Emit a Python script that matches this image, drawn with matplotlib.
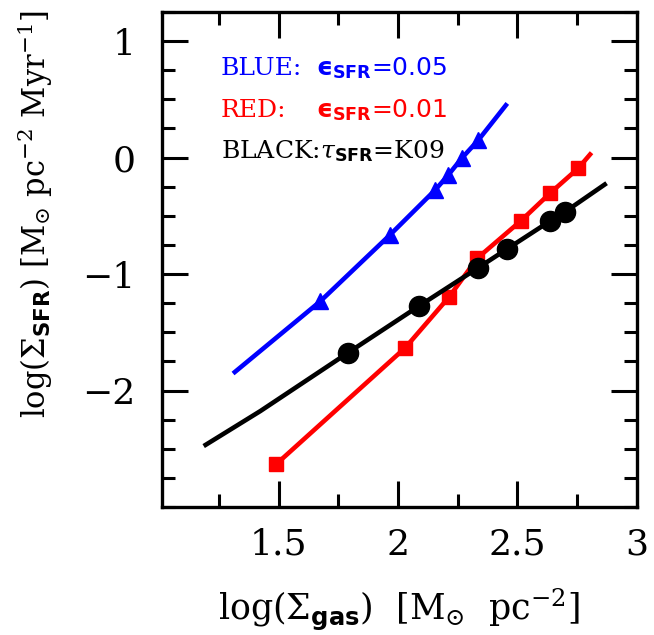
import matplotlib
matplotlib.use("Agg")
import matplotlib.pyplot as plt
from matplotlib.ticker import MultipleLocator, FixedLocator

plt.rcParams['mathtext.fontset'] = 'custom'
plt.rcParams['mathtext.rm'] = 'DejaVu Serif'
plt.rcParams['mathtext.it'] = 'DejaVu Serif:italic'
plt.rcParams['mathtext.bf'] = 'DejaVu Sans:bold'
plt.rcParams['mathtext.sf'] = 'DejaVu Sans'
plt.rcParams['font.family'] = 'DejaVu Serif'

# BLUE: eps_SFR = 0.05
blue_line_x = [1.309, 1.674, 1.967, 2.156, 2.211, 2.267, 2.337, 2.458]
blue_line_y = [-1.854, -1.235, -0.663, -0.278, -0.149, -0.006, 0.151, 0.465]
blue_pts_x = [1.674, 1.967, 2.156, 2.211, 2.267, 2.337]
blue_pts_y = [-1.235, -0.663, -0.278, -0.149, -0.006, 0.151]

# RED: eps_SFR = 0.01
red_line_x = [1.489, 2.030, 2.214, 2.333, 2.516, 2.637, 2.755, 2.811]
red_line_y = [-2.634, -1.634, -1.197, -0.863, -0.541, -0.306, -0.092, 0.042]
red_pts_x = [1.489, 2.030, 2.214, 2.333, 2.516, 2.637, 2.755]
red_pts_y = [-2.634, -1.634, -1.197, -0.863, -0.541, -0.306, -0.092]

# BLACK: tau_SFR = K09
black_line_x = [1.186, 1.423, 1.790, 2.090, 2.334, 2.456, 2.635, 2.700, 2.874]
black_line_y = [-2.477, -2.177, -1.677, -1.272, -0.949, -0.786, -0.548, -0.466, -0.220]
black_pts_x = [1.790, 2.090, 2.334, 2.456, 2.635, 2.700]
black_pts_y = [-1.677, -1.272, -0.949, -0.786, -0.548, -0.466]

xticks = [1.5, 2.0, 2.5, 3.0]
xticklabels = ['1.5', '2', '2.5', '3']
yticks = [-2, -1, 0, 1]
yticklabels = ['\u22122', '\u22121', '0', '1']

fig = plt.figure(figsize=(6.54, 6.35), dpi=100)
ax = fig.add_axes([0.2472, 0.2016, 0.7263, 0.7795])

lw = 3.3
ax.plot(blue_line_x, blue_line_y, color='#0000ff', lw=lw, solid_capstyle='butt', zorder=2)
ax.plot(blue_pts_x, blue_pts_y, ls='none', marker='^', ms=12, color='#0000ff', zorder=3)
ax.plot(red_line_x, red_line_y, color='#ff0000', lw=lw, solid_capstyle='butt', zorder=2)
ax.plot(red_pts_x, red_pts_y, ls='none', marker='s', ms=10.5, color='#ff0000', zorder=3)
ax.plot(black_line_x, black_line_y, color='black', lw=lw, solid_capstyle='butt', zorder=4)
ax.plot(black_pts_x, black_pts_y, ls='none', marker='o', ms=14.5, color='black', zorder=5)

ax.set_xlim(1.01, 3.0)
ax.set_ylim(-3.0, 1.25)
ax.xaxis.set_major_locator(FixedLocator(xticks))
ax.set_xticklabels(xticklabels)
ax.xaxis.set_minor_locator(MultipleLocator(0.25))
ax.yaxis.set_major_locator(FixedLocator(yticks))
ax.set_yticklabels(yticklabels)
ax.yaxis.set_minor_locator(MultipleLocator(0.25))

for s in ax.spines.values():
    s.set_linewidth(2.4)
ax.tick_params(which='both', direction='in', top=True, right=True, width=2.2)
ax.tick_params(which='major', length=18.5)
ax.tick_params(which='minor', length=9.5)
ax.tick_params(axis='x', which='major', pad=15, labelsize=26)
ax.tick_params(axis='y', which='major', pad=19, labelsize=26)

EPS = '\u03f5'
fs_t = 18
# left words
ax.text(0.1242, 0.8727, 'BLUE:', transform=ax.transAxes, color='#0000ff',
        fontsize=fs_t, ha='left', va='baseline')
ax.text(0.1242, 0.7873, 'RED:', transform=ax.transAxes, color='#ff0000',
        fontsize=fs_t, ha='left', va='baseline')
# parameter parts
ax.text(0.3248, 0.8727, r'$\mathbf{' + EPS + r'}_{\mathbf{SFR}}$=0.05',
        transform=ax.transAxes, color='#0000ff', fontsize=fs_t,
        family='DejaVu Sans', ha='left', va='baseline')
ax.text(0.3248, 0.7873, r'$\mathbf{' + EPS + r'}_{\mathbf{SFR}}$=0.01',
        transform=ax.transAxes, color='#ff0000', fontsize=fs_t,
        family='DejaVu Sans', ha='left', va='baseline')
ax.text(0.1242, 0.7044, r'BLACK:$\tau_{\mathbf{SFR}}$=K09',
        transform=ax.transAxes, color='black', fontsize=fs_t,
        ha='left', va='baseline')

fig.text(399 / 654, 1 - 610 / 635,
         r'$\mathrm{log}(\Sigma_{\mathbf{gas}})\ \ [\mathrm{M}_{\odot}\ \ \mathrm{pc}^{-2}]$',
         fontsize=25, ha='center', va='center')
fig.text(35 / 654, 1 - 214 / 635,
         r'$\mathrm{log}(\Sigma_{\mathbf{SFR}})\ [\mathrm{M}_{\odot}\ \mathrm{pc}^{-2}\ \mathrm{Myr}^{-1}]$',
         fontsize=22, ha='center', va='center', rotation=90)

fig.savefig('out.png', dpi=100)
